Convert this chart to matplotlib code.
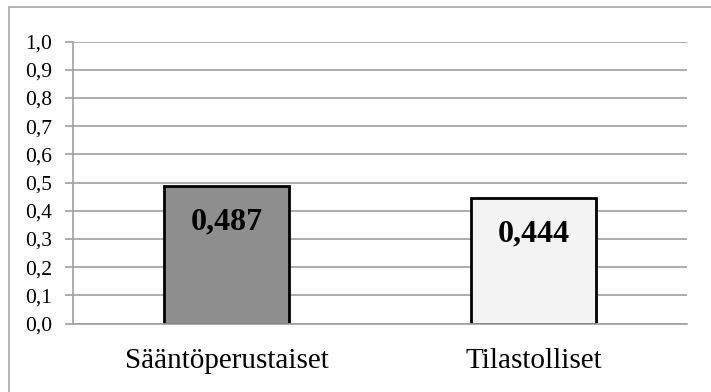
import matplotlib
matplotlib.use("Agg")
import matplotlib.pyplot as plt
from matplotlib.patches import Rectangle

categories = ["Sääntöperustaiset", "Tilastolliset"]
values = [0.487, 0.444]
value_labels = ["0,487", "0,444"]
bar_colors = ["#8e8e8e", "#f3f3f3"]
yticks = [i / 10 for i in range(11)]
ytick_labels = ["%.1f" % t for t in yticks]
ytick_labels = [s.replace(".", ",") for s in ytick_labels]

plt.rcParams["font.family"] = ["Liberation Serif", "DejaVu Serif"]

fig = plt.figure(figsize=(7.11, 3.92), dpi=100)
ax = fig.add_axes([73 / 711, 68.5 / 392, 614 / 711, 282 / 392])

# outer frame, cut off at right and bottom like in the source
fig.patches.append(Rectangle((9 / 711, -0.1), 1.2, (392 - 7) / 392 + 0.1,
                             transform=fig.transFigure, fill=False,
                             edgecolor="#a6a6a6", linewidth=1.2))

x = range(len(categories))
ax.bar(x, values, width=0.405, color=bar_colors, edgecolor="black",
       linewidth=2.0, zorder=3)

for i, v in enumerate(values):
    ax.text(i, v - 0.125, value_labels[i], ha="center", va="center",
            fontsize=23, fontweight="bold", zorder=4)

ax.set_xlim(-0.5, 1.5)
ax.set_ylim(0, 1.0)
ax.set_yticks(yticks)
ax.set_yticklabels(ytick_labels, fontsize=15.5)
ax.set_xticks(list(x))
ax.set_xticklabels(categories, fontsize=21)
ax.tick_params(axis="x", length=0, pad=18)
ax.tick_params(axis="y", length=6, width=1.2, color="#a0a0a0", pad=9)

ax.grid(axis="y", color="#a0a0a0", linewidth=1.2, zorder=0)
ax.set_axisbelow(True)
for side in ["top", "right"]:
    ax.spines[side].set_visible(False)
for side in ["left", "bottom"]:
    ax.spines[side].set_color("#a0a0a0")
    ax.spines[side].set_linewidth(1.2)
    ax.spines[side].set_zorder(5)

fig.savefig("out.png", dpi=100)
